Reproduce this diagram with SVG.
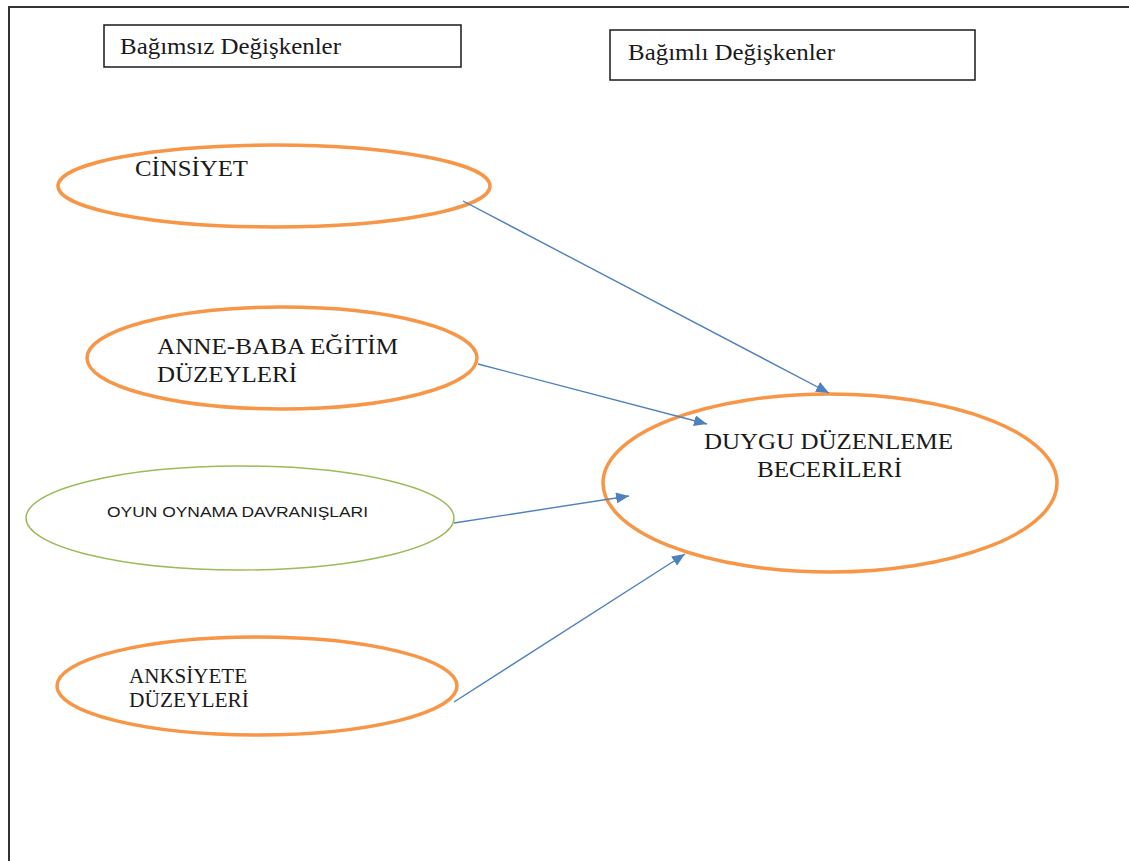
<svg xmlns="http://www.w3.org/2000/svg" width="1129" height="861" viewBox="0 0 1129 861">
<defs>
<style>
.frame{fill:none;stroke:#333;stroke-width:2}
.box{fill:#fff;stroke:#1a1a1a;stroke-width:1.5}
.ell{fill:#fff;stroke:#F79646;stroke-width:3.5}
.ellg{fill:#fff;stroke:#9BBB59;stroke-width:1.5}
.conn{fill:none;stroke:#4F81BD;stroke-width:1.4;marker-end:url(#arr)}
.t{font-family:"Liberation Serif","Times New Roman",serif;font-size:23px;fill:#1a1a1a}
.s{font-family:"Liberation Sans",Arial,sans-serif;font-size:15px;fill:#1a1a1a}
</style>
<marker id="arr" viewBox="0 0 13 11" refX="13" refY="5.5" markerWidth="13" markerHeight="11" markerUnits="userSpaceOnUse" orient="auto">
<path d="M0,0 L13,5.5 L0,11 z" fill="#4F81BD"/>
</marker>
</defs>
<rect width="1129" height="861" fill="#fff"/>
<path class="frame" d="M9,861 V7 H1129"/>
<g id="box-bagimsiz">
<rect class="box" x="104" y="25" width="357" height="42"/>
<text class="t" x="120" y="54" textLength="221" lengthAdjust="spacingAndGlyphs">Bağımsız Değişkenler</text>
</g>
<g id="box-bagimli">
<rect class="box" x="610" y="30" width="365" height="50"/>
<text class="t" x="628" y="60" textLength="207" lengthAdjust="spacingAndGlyphs">Bağımlı Değişkenler</text>
</g>
<g id="node-cinsiyet">
<ellipse class="ell" cx="274" cy="186" rx="216" ry="41"/>
<text class="t" x="135" y="176" textLength="113" lengthAdjust="spacingAndGlyphs">CİNSİYET</text>
</g>
<g id="node-anne-baba">
<ellipse class="ell" cx="282" cy="358" rx="195" ry="51"/>
<text class="t" x="157" y="354" textLength="241" lengthAdjust="spacingAndGlyphs">ANNE-BABA EĞİTİM</text>
<text class="t" x="157" y="382" textLength="140" lengthAdjust="spacingAndGlyphs">DÜZEYLERİ</text>
</g>
<g id="node-oyun">
<ellipse class="ellg" cx="240" cy="518" rx="214" ry="52"/>
<text class="s" x="107" y="517" textLength="261" lengthAdjust="spacingAndGlyphs">OYUN OYNAMA DAVRANIŞLARI</text>
</g>
<g id="node-anksiyete">
<ellipse class="ell" cx="257" cy="686" rx="200" ry="49"/>
<text class="t" x="129" y="683" style="font-size:21px" textLength="118" lengthAdjust="spacingAndGlyphs">ANKSİYETE</text>
<text class="t" x="129" y="707" style="font-size:21px" textLength="120" lengthAdjust="spacingAndGlyphs">DÜZEYLERİ</text>
</g>
<g id="node-duygu">
<ellipse class="ell" cx="830" cy="483" rx="227" ry="89"/>
<text class="t" x="704" y="449" textLength="249" lengthAdjust="spacingAndGlyphs">DUYGU DÜZENLEME</text>
<text class="t" x="757" y="477" textLength="145" lengthAdjust="spacingAndGlyphs">BECERİLERİ</text>
</g>
<g id="connectors">
<line class="conn" x1="463" y1="201" x2="829" y2="393"/>
<line class="conn" x1="478" y1="364" x2="707" y2="424"/>
<line class="conn" x1="454" y1="523" x2="629" y2="496"/>
<line class="conn" x1="454" y1="702" x2="685" y2="554"/>
</g>
</svg>
